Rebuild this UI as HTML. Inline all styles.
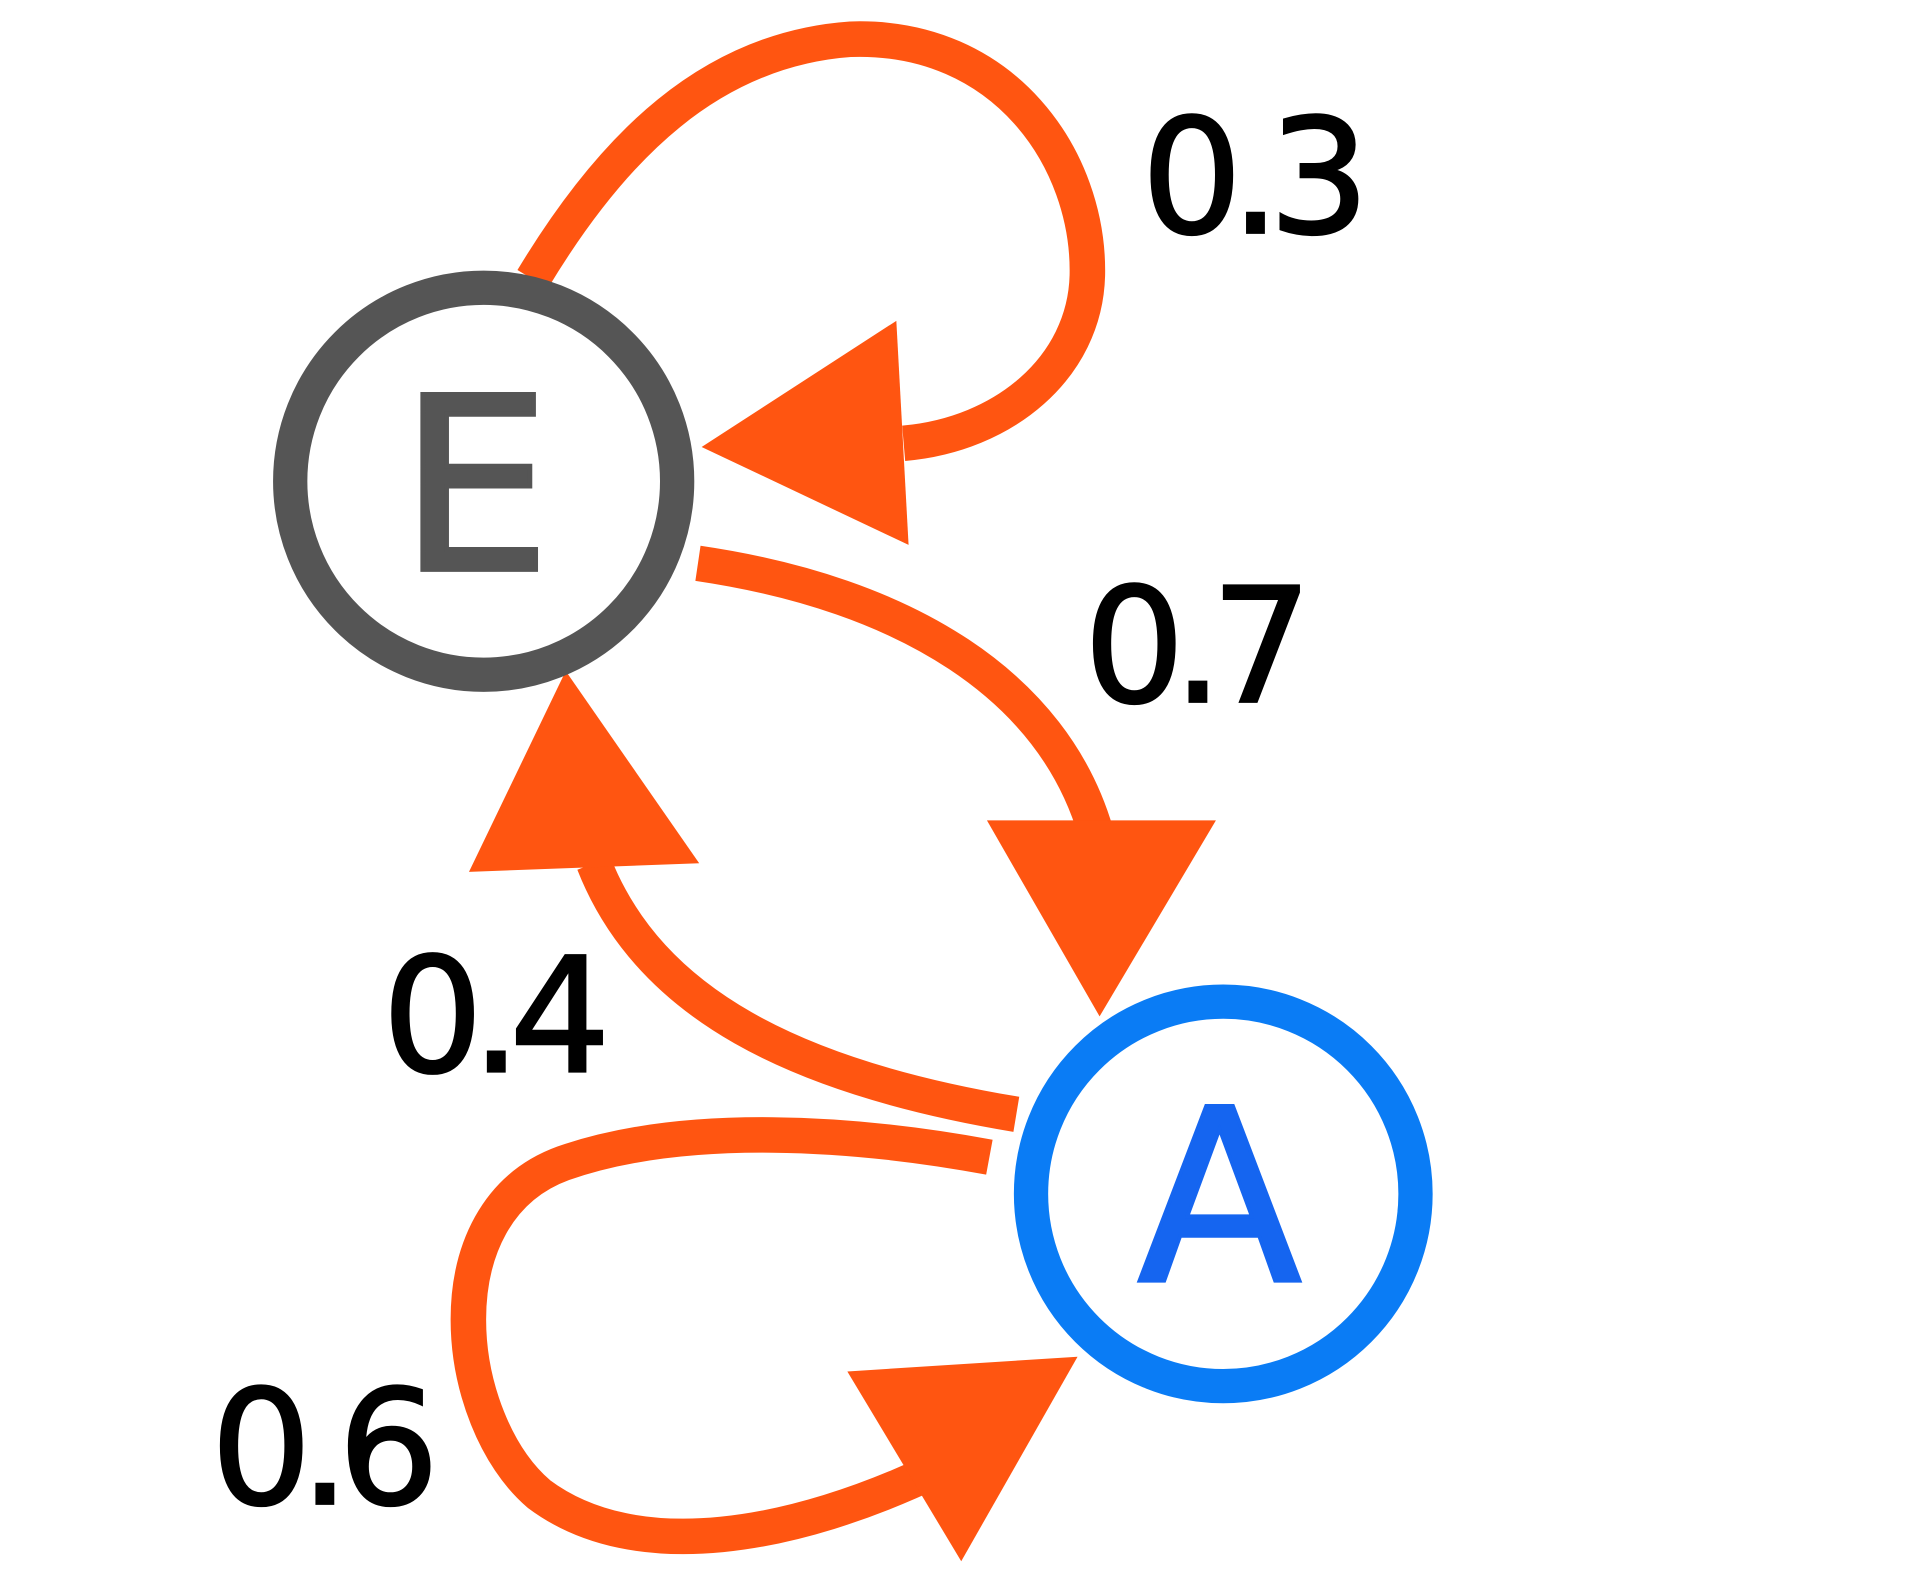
<!DOCTYPE html>
<html><head><meta charset="utf-8"><style>
html,body{margin:0;padding:0;background:#fff;}
svg{display:block;}
</style></head><body>
<svg width="1920" height="1574" viewBox="0 0 1568 1285.4" xmlns="http://www.w3.org/2000/svg">
<g fill="none" stroke="#ff5511" stroke-width="29">
<path d="M435 228 C 500 120, 580 40, 695 32 C 820 28, 890 130, 888 225 C 886 300, 820 355, 738 362"/>
<path d="M570 460 C 740 485, 860 560, 895 680"/>
<path d="M830 910 C 650 880, 530 820, 485 705"/>
<path d="M808 945 C 700 925, 560 915, 460 950 C 350 990, 370 1160, 440 1220 C 520 1280, 650 1255, 765 1200"/>
</g>
<g fill="#ff5511">
<polygon points="732,262 742,445 573,365"/>
<polygon points="806,670 993,670 898,830"/>
<polygon points="383,712 571,705 462,548"/>
<polygon points="692,1120 880,1108 785,1275"/>
</g>
<circle cx="395" cy="393" r="158" fill="#fff" stroke="#555555" stroke-width="28"/>
<circle cx="999" cy="975" r="157" fill="#fff" stroke="#0a7cf5" stroke-width="28"/>
<g font-family="'DejaVu Sans','Liberation Sans',sans-serif" text-anchor="middle">
<text x="388" y="465" font-size="196" fill="#555555" stroke="#555555" stroke-width="4">E</text>
<text x="996" y="1046" font-size="196" fill="#1565f0" stroke="#1565f0" stroke-width="3">A</text>
</g>
<g font-family="'DejaVu Sans','Liberation Sans',sans-serif" font-size="130" fill="#000" letter-spacing="-10" stroke="#000" stroke-width="2">
<text x="932" y="190">0.3</text>
<text x="885" y="573">0.7</text>
<text x="312" y="875">0.4</text>
<text x="172" y="1228">0.6</text>
</g>
</svg>
</body></html>
